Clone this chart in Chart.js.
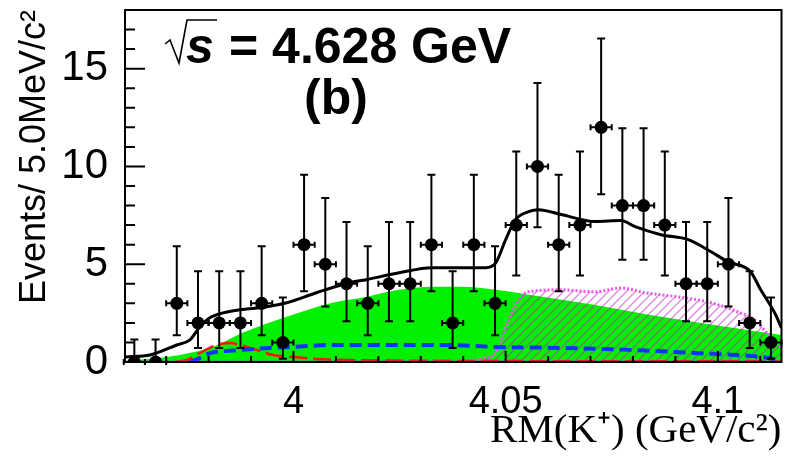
<!DOCTYPE html>
<html lang="en">
<head>
    <meta charset="utf-8" />
    <title>RM(K+) at 4.628 GeV</title>
    <style>
        body { margin: 0; background: #fff; }
        .plot { width: 788px; height: 456px; }
    </style>
</head>
<body>
    <div class="plot">
        <canvas id="rmchart"></canvas>
    </div>
    <script src="https://cdn.jsdelivr.net/npm/chart.js@4.4.1/dist/chart.umd.min.js"></script>
    <script>
        // data points (5 MeV bins)
        const binCenters = [3.9625, 3.9675, 3.9725, 3.9775, 3.9825, 3.9875, 3.9925, 3.9975, 4.0025, 4.0075,
            4.0125, 4.0175, 4.0225, 4.0275, 4.0325, 4.0375, 4.0425, 4.0475, 4.0525, 4.0575,
            4.0625, 4.0675, 4.0725, 4.0775, 4.0825, 4.0875, 4.0925, 4.0975, 4.1025, 4.1075, 4.1125];
        const counts = [0, 0, 3, 2, 2, 2, 3, 1, 6, 5, 4, 3, 4, 4, 6, 2, 6, 3, 7, 10, 6, 7, 12, 8, 8, 7, 4, 4, 5, 2, 1];
        const errLow = [0, 0, 1.37, 0.71, 0.71, 0.71, 1.37, 0.17, 3.62, 2.84, 2.09, 1.37, 2.09, 2.09, 3.62, 0.71,
            3.62, 1.37, 4.42, 6.89, 3.62, 4.42, 8.58, 5.23, 5.23, 4.42, 2.09, 2.09, 2.84, 0.71, 0.17];
        const errHigh = [1.15, 1.15, 5.92, 4.64, 4.64, 4.64, 5.92, 3.3, 9.58, 8.38, 7.16, 5.92, 7.16, 7.16, 9.58, 4.64,
            9.58, 5.92, 10.77, 14.27, 9.58, 10.77, 16.54, 11.95, 11.95, 10.77, 7.16, 7.16, 8.38, 4.64, 3.3];
        const binHalfWidth = 0.0025;

        // total fit (black)
        const fitX = [3.9603, 3.9662, 3.9725, 3.9756, 3.9779, 3.9803, 3.9834, 3.9873, 3.9937, 3.9984, 4.0054, 4.0131,
            4.0171, 4.0249, 4.0326, 4.0453, 4.0477, 4.05, 4.0523, 4.0554, 4.0577, 4.0631, 4.0711, 4.0772, 4.0805,
            4.0866, 4.093, 4.0984, 4.1023, 4.1077, 4.1101, 4.1134, 4.115];
        const fitY = [0.26, 0.36, 0.87, 1.13, 1.79, 2.26, 2.51, 2.67, 2.82, 3.03, 3.54, 4.05, 4.21, 4.56, 4.82, 4.82,
            5.08, 6.26, 7.28, 7.69, 7.79, 7.54, 7.18, 7.23, 6.92, 6.51, 6.26, 5.64, 5.13, 4.62, 3.69, 2.51, 1.74];

        // background (green filled)
        const bkgX = [3.9603, 3.9702, 3.9763, 3.981, 3.988, 3.9984, 4.0092, 4.0171, 4.0249, 4.0326, 4.0397, 4.0477,
            4.0554, 4.0711, 4.0866, 4.1023, 4.1101, 4.115];
        const bkgY = [0.05, 0.25, 0.5, 0.77, 1.49, 2.31, 3.03, 3.33, 3.69, 3.85, 3.85, 3.69, 3.44, 2.92, 2.31, 1.79, 1.54, 1.38];

        // signal shape (magenta hatched)
        const sigX = [4.04, 4.0448, 4.0477, 4.0507, 4.0531, 4.0554, 4.0631, 4.0711, 4.0772, 4.0829, 4.0906, 4.0984,
            4.1047, 4.1087, 4.1124, 4.115];
        const sigY = [0, 0.2, 0.51, 2.15, 3.18, 3.59, 3.69, 3.59, 3.79, 3.54, 3.33, 3.03, 2.56, 2.15, 1.28, 0.77];

        // blue dashed component
        const blueX = [3.9756, 3.9779, 3.9803, 3.9866, 3.9944, 3.9998, 4.0092, 4.0366, 4.0477, 4.0631, 4.0789,
            4.0946, 4.1101, 4.115];
        const blueY = [0, 0.2, 0.45, 0.6, 0.72, 0.77, 0.87, 0.87, 0.77, 0.72, 0.62, 0.46, 0.26, 0.1];

        // red dashed component
        const redX = [3.9721, 3.9749, 3.9779, 3.9819, 3.985, 3.9873, 3.9913, 3.9951, 3.9998, 4.0054, 4.0131, 4.0484, 4.115];
        const redY = [0, 0.1, 0.46, 0.87, 0.97, 0.87, 0.62, 0.36, 0.26, 0.15, 0.1, 0.05, 0.03];

        // violet zero line
        const baseX = [3.9603, 4.115];
        const baseY = [0, 0];

        const xTickValues = [4, 4.05, 4.1];
        const yTickValues = [0, 5, 10, 15];

        const pts = (xs, ys) => xs.map((x, i) => ({ x: x, y: ys[i] }));

        // hatch pattern for the signal area
        const hatch = document.createElement('canvas');
        hatch.width = 9;
        hatch.height = 9;
        const hc = hatch.getContext('2d');
        hc.strokeStyle = 'rgba(190, 40, 190, 0.55)';
        hc.lineWidth = 1.3;
        hc.beginPath();
        hc.moveTo(0, 9); hc.lineTo(9, 0);
        hc.moveTo(-1, 1); hc.lineTo(1, -1);
        hc.moveTo(8, 10); hc.lineTo(10, 8);
        hc.stroke();
        const hatchPattern = hc.createPattern(hatch, 'repeat');

        // error bars, ticks inside the frame, frame and the labels
        const rootStyle = {
            id: 'rootStyle',
            afterDatasetsDraw(chart) {
                const ctx = chart.ctx;
                const xs = chart.scales.x;
                const ys = chart.scales.y;
                ctx.save();
                ctx.strokeStyle = '#000';
                ctx.lineWidth = 2;
                for (let i = 0; i < binCenters.length; i++) {
                    const px = xs.getPixelForValue(binCenters[i]);
                    const py = ys.getPixelForValue(counts[i]);
                    const pLo = ys.getPixelForValue(errLow[i]);
                    const pHi = ys.getPixelForValue(errHigh[i]);
                    const pL = xs.getPixelForValue(binCenters[i] - binHalfWidth);
                    const pR = xs.getPixelForValue(binCenters[i] + binHalfWidth);
                    ctx.beginPath();
                    ctx.moveTo(px, pLo); ctx.lineTo(px, pHi);
                    ctx.moveTo(px - 4, pHi); ctx.lineTo(px + 4, pHi);
                    if (errLow[i] > 0) {
                        ctx.moveTo(px - 4, pLo); ctx.lineTo(px + 4, pLo);
                    }
                    ctx.moveTo(pL, py); ctx.lineTo(pR, py);
                    ctx.moveTo(pL, py - 3); ctx.lineTo(pL, py + 3);
                    ctx.moveTo(pR, py - 3); ctx.lineTo(pR, py + 3);
                    ctx.stroke();
                }
                ctx.restore();
            },
            afterDraw(chart) {
                const ctx = chart.ctx;
                const area = chart.chartArea;
                const xs = chart.scales.x;
                const ys = chart.scales.y;
                ctx.save();
                ctx.strokeStyle = '#000';
                ctx.lineWidth = 2;
                ctx.beginPath();
                for (let v = 1; v <= 17; v++) {
                    const py = ys.getPixelForValue(v);
                    const len = v % 5 === 0 ? 20 : 10;
                    ctx.moveTo(area.left, py); ctx.lineTo(area.left + len, py);
                }
                for (let k = 397; k <= 411; k++) {
                    const v = k / 100;
                    const px = xs.getPixelForValue(v);
                    const len = k % 5 === 0 ? 11 : 6;
                    ctx.moveTo(px, area.bottom); ctx.lineTo(px, area.bottom - len);
                }
                ctx.stroke();
                ctx.strokeRect(area.left, area.top, area.right - area.left, area.bottom - area.top);

                // sqrt(s) label: thin radical sign with a bar over the bold italic s
                ctx.fillStyle = '#000';
                ctx.lineWidth = 1.6;
                ctx.lineJoin = 'miter';
                ctx.beginPath();
                ctx.moveTo(165, 44);
                ctx.lineTo(170, 40);
                ctx.lineTo(179, 63);
                ctx.lineTo(187, 20);
                ctx.lineTo(217, 20);
                ctx.stroke();
                ctx.textBaseline = 'alphabetic';
                ctx.textAlign = 'left';
                ctx.font = 'italic bold 50px "Liberation Sans"';
                ctx.fillText('s', 186, 63);
                ctx.font = 'bold 50px "Liberation Sans"';
                ctx.fillText('= 4.628 GeV', 229, 63);
                ctx.textAlign = 'center';
                ctx.fillText('(b)', 336, 114);
                ctx.restore();
            }
        };

        const rmchart = document.getElementById('rmchart');

        new Chart(rmchart, {
            data: {
                datasets: [{
                    type: 'scatter',
                    label: 'data',
                    data: pts(binCenters, counts),
                    pointRadius: 6.5,
                    pointBackgroundColor: '#000',
                    pointBorderWidth: 0,
                    order: 0
                }, {
                    type: 'line',
                    label: 'fit',
                    data: pts(fitX, fitY),
                    borderColor: '#000',
                    borderWidth: 3,
                    pointRadius: 0,
                    cubicInterpolationMode: 'monotone',
                    fill: false,
                    order: 1
                }, {
                    type: 'line',
                    label: 'zero',
                    data: pts(baseX, baseY),
                    borderColor: '#9a22ee',
                    borderWidth: 2.5,
                    pointRadius: 0,
                    fill: false,
                    order: 2
                }, {
                    type: 'line',
                    label: 'blue',
                    data: pts(blueX, blueY),
                    borderColor: '#1133ff',
                    borderWidth: 4,
                    borderDash: [12, 6],
                    pointRadius: 0,
                    cubicInterpolationMode: 'monotone',
                    fill: false,
                    order: 3
                }, {
                    type: 'line',
                    label: 'red',
                    data: pts(redX, redY),
                    borderColor: '#ff1111',
                    borderWidth: 2.5,
                    borderDash: [18, 6],
                    pointRadius: 0,
                    cubicInterpolationMode: 'monotone',
                    fill: false,
                    order: 4
                }, {
                    type: 'line',
                    label: 'signal',
                    data: pts(sigX, sigY),
                    borderColor: '#ee55ee',
                    borderWidth: 3,
                    borderDash: [2, 2],
                    backgroundColor: hatchPattern,
                    pointRadius: 0,
                    cubicInterpolationMode: 'monotone',
                    fill: 'origin',
                    order: 5
                }, {
                    type: 'line',
                    label: 'background',
                    data: pts(bkgX, bkgY),
                    borderWidth: 0,
                    borderColor: 'rgba(0,0,0,0)',
                    backgroundColor: '#00f000',
                    pointRadius: 0,
                    cubicInterpolationMode: 'monotone',
                    fill: 'origin',
                    order: 6
                }]
            },
            options: {
                responsive: true,
                maintainAspectRatio: false,
                animation: false,
                layout: {
                    padding: { top: 10, right: 4, left: 0, bottom: 0 }
                },
                plugins: {
                    legend: { display: false },
                    tooltip: { enabled: false }
                },
                scales: {
                    x: {
                        type: 'linear',
                        min: 3.9603,
                        max: 4.115,
                        grid: { display: false, drawTicks: false },
                        border: { display: false },
                        afterBuildTicks: (axis) => { axis.ticks = xTickValues.map(v => ({ value: v })); },
                        afterFit: (axis) => {
                            axis.height = 94;
                            axis.paddingLeft = 0;
                            axis.paddingRight = 0;
                        },
                        ticks: {
                            padding: 18,
                            color: '#000',
                            maxRotation: 0,
                            font: { family: 'Liberation Sans', size: 38 },
                            callback: (v) => String(+v.toFixed(3))
                        },
                        title: {
                            display: true,
                            text: 'RM(K⁺) (GeV/c²)',
                            align: 'end',
                            color: '#000',
                            padding: { top: 0, bottom: 4 },
                            font: { family: 'Liberation Serif', size: 41, lineHeight: 1.0 }
                        }
                    },
                    y: {
                        type: 'linear',
                        min: 0,
                        max: 18,
                        grid: { display: false, drawTicks: false },
                        border: { display: false },
                        afterBuildTicks: (axis) => { axis.ticks = yTickValues.map(v => ({ value: v })); },
                        afterFit: (axis) => {
                            axis.width = 125;
                            axis.paddingTop = 0;
                            axis.paddingBottom = 0;
                        },
                        ticks: {
                            padding: 17,
                            color: '#000',
                            font: { family: 'Liberation Sans', size: 42 }
                        },
                        title: {
                            display: true,
                            text: 'Events/ 5.0MeV/c²',
                            align: 'end',
                            color: '#000',
                            padding: { top: 17, bottom: 0 },
                            font: { family: 'Liberation Sans', size: 36, lineHeight: 1.0 }
                        }
                    }
                }
            },
            plugins: [rootStyle]
        });
    </script>
</body>
</html>
